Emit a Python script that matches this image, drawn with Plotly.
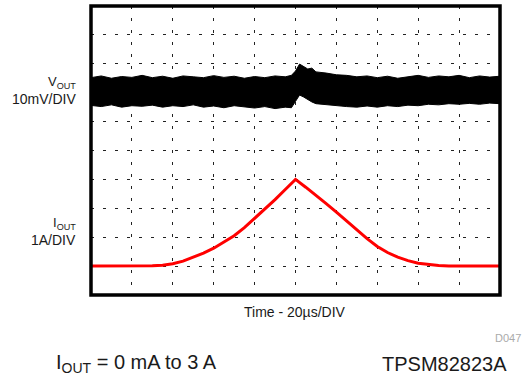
import plotly.graph_objects as go

# Time axis in microseconds (20 us/div, 10 divisions); vertical in divisions (0..10)
t_v = [0, 5, 10, 15, 20, 25, 30, 35, 40, 45, 50, 55, 60, 65, 70, 75, 80, 85, 90, 95,
       98, 100, 102, 104, 106, 108, 110, 115, 120, 125, 130, 135, 140, 145, 150, 155,
       160, 165, 170, 175, 180, 185, 190, 195, 200]
vout_upper = [7.52, 7.58, 7.50, 7.56, 7.53, 7.60, 7.52, 7.57, 7.50, 7.58, 7.55, 7.52, 7.59,
              7.53, 7.57, 7.50, 7.56, 7.52, 7.58, 7.55, 7.60, 7.75, 7.99, 7.90, 7.82, 7.85,
              7.72, 7.68, 7.62, 7.60, 7.55, 7.58, 7.52, 7.57, 7.50, 7.55, 7.60, 7.53, 7.58,
              7.55, 7.60, 7.52, 7.58, 7.54, 7.57]
vout_lower = [6.56, 6.52, 6.58, 6.50, 6.55, 6.53, 6.57, 6.50, 6.55, 6.52, 6.58, 6.50, 6.54,
              6.48, 6.55, 6.50, 6.47, 6.52, 6.45, 6.50, 6.48, 6.70, 6.92, 6.85, 6.75, 6.68,
              6.62, 6.58, 6.55, 6.52, 6.50, 6.54, 6.50, 6.55, 6.52, 6.57, 6.55, 6.60, 6.58,
              6.62, 6.60, 6.63, 6.60, 6.64, 6.62]

t_i = [0, 5, 10, 15, 20, 25, 30, 35, 40, 45, 50, 55, 60, 65, 70, 75, 80, 85, 90, 95, 100,
       105, 110, 115, 120, 125, 130, 135, 140, 145, 150, 155, 160, 165, 170, 175, 180,
       185, 190, 195, 200]
iout = [1.0, 1.0, 1.0, 1.0, 1.0, 1.0, 1.01, 1.03, 1.08, 1.17, 1.30, 1.45, 1.62, 1.82, 2.05,
        2.33, 2.65, 2.97, 3.30, 3.65, 4.0,
        3.73, 3.46, 3.16, 2.87, 2.56, 2.25, 1.95, 1.68, 1.47, 1.31, 1.19, 1.10, 1.05, 1.02,
        1.0, 1.0, 1.0, 1.0, 1.0, 1.0]

fig = go.Figure()
fig.add_trace(go.Scatter(x=t_v, y=vout_upper, mode="lines",
                         line=dict(color="black", width=1), showlegend=False))
fig.add_trace(go.Scatter(x=t_v, y=vout_lower, mode="lines", fill="tonexty",
                         fillcolor="black", line=dict(color="black", width=1),
                         showlegend=False))
fig.add_trace(go.Scatter(x=t_i, y=iout, mode="lines",
                         line=dict(color="#ff0000", width=3), showlegend=False))

axis_common = dict(showticklabels=False, ticks="", zeroline=False, showline=False,
                   showgrid=True, gridcolor="#222", gridwidth=1, griddash="3px,9px")
fig.update_xaxes(range=[0, 200], dtick=20, **axis_common)
fig.update_yaxes(range=[0, 10], dtick=1, **axis_common)

fig.add_shape(type="rect", xref="paper", yref="paper", x0=0, y0=0, x1=1, y1=1,
              line=dict(color="black", width=3.5), layer="above")

W0, W, H0, H = 91, 409, 295, 289
def px(xp):
    return (xp - W0) / W
def py(yp):
    return (H0 - yp) / H

font = "Liberation Sans, Arial, sans-serif"
ann = [
    dict(x=px(78), y=py(82), text="V<sub>OUT</sub>", size=13, xanchor="right"),
    dict(x=px(78), y=py(98.5), text="10mV/DIV", size=14, xanchor="right"),
    dict(x=px(78), y=py(223), text="I<sub>OUT</sub>", size=13, xanchor="right"),
    dict(x=px(78), y=py(239.5), text="1A/DIV", size=14, xanchor="right"),
    dict(x=px(295), y=py(312), text="Time - 20µs/DIV", size=14, xanchor="center"),
    dict(x=px(523), y=py(338), text="D047", size=11, xanchor="right", color="#aaaaaa"),
    dict(x=px(54), y=py(363), text="I<sub>OUT</sub> = 0 mA to 3 A", size=20, xanchor="left"),
    dict(x=px(509), y=py(364), text="TPSM82823A", size=20, xanchor="right"),
]
for a in ann:
    fig.add_annotation(x=a["x"], y=a["y"], xref="paper", yref="paper", text=a["text"],
                       showarrow=False, xanchor=a["xanchor"], yanchor="middle",
                       font=dict(family=font, size=a["size"], color=a.get("color", "#1a1a1a")))

fig.update_layout(width=528, height=379, margin=dict(l=91, r=28, t=6, b=84),
                  plot_bgcolor="white", paper_bgcolor="white")

fig.write_html("out.html", config={"displayModeBar": False},
               post_script="document.body.style.margin='0';document.body.style.padding='0';")
